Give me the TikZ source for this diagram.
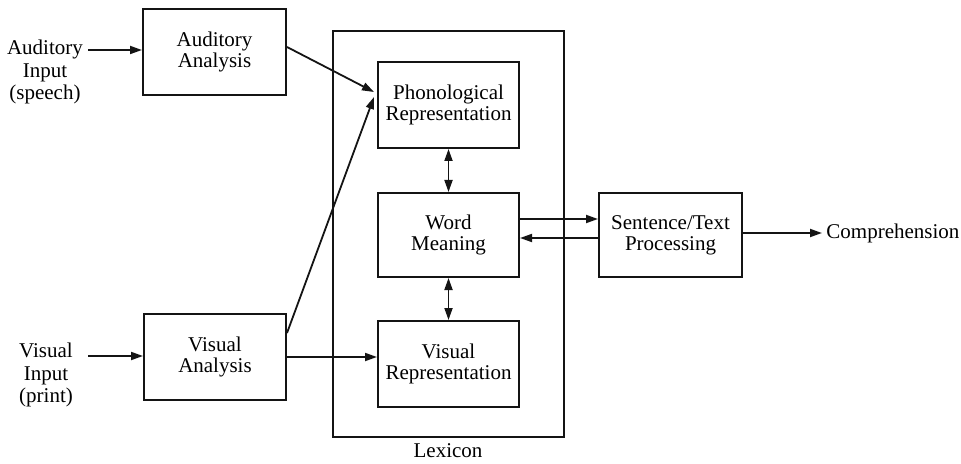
\documentclass[tikz,border=0pt]{standalone}
\usepackage{fontspec}
\setmainfont{Liberation Serif}
\usepackage{tikz}
\usetikzlibrary{arrows.meta,positioning,calc}
\definecolor{ink}{RGB}{20,20,20}
\tikzset{
  box/.style={rectangle,draw=ink,line width=1pt,align=center,
              minimum width=#1,minimum height=43pt,inner sep=2pt,
              font=\fontsize{10.5}{10.5}\selectfont},
  box/.default=71pt,
  label text/.style={align=center,inner sep=2pt,
                     font=\fontsize{10.5}{11.2}\selectfont},
  arrow/.style={-{Triangle[length=6pt,width=4pt]},line width=0.9pt,ink},
  dbarrow/.style={{Triangle[length=6pt,width=4pt]}-{Triangle[length=6pt,width=4pt]},
                  line width=0.9pt,ink},
}
\begin{document}
\begin{tikzpicture}[x=0.5pt,y=0.5pt]
  \useasboundingbox (0,0) rectangle (961,-464);
  % lexicon frame
  \node[draw=ink,line width=0.6pt,minimum width=115.5pt,minimum height=203pt,inner sep=0pt]
    (lexicon) at (448.5,-234) {};
  \node[label text] (lexlabel) at (448,-451) {Lexicon};

  \node[box=71.5pt] (audan) at (214.5,-52) {Auditory\\Analysis};
  \node[box] (visan) at (215,-357) {Visual\\Analysis};
  \node[box=70.5pt] (phon) at (448.5,-105) {Phonological\\Representation};
  \node[box=70.5pt,minimum height=42pt] (word) at (448.5,-235) {Word\\Meaning};
  \node[box=70.5pt] (visrep) at (448.5,-364) {Visual\\Representation};
  \node[box=71.5pt,minimum height=42pt] (sent) at (670.5,-235) {Sentence/Text\\Processing};

  \node[label text] (audin) at (45,-72) {Auditory\\Input\\(speech)};
  \node[label text] (visin) at (46,-375) {Visual\\Input\\(print)};
  \node[label text,anchor=west] (compr) at (822,-233) {Comprehension};

  \coordinate (audsrc) at (88,-50);
  \coordinate (vissrc) at (88,-356);

  \draw[arrow] (audsrc) -- (audan.west |- audsrc);
  \draw[arrow] (vissrc) -- (visan.west |- vissrc);
  \draw[arrow] ($(audan.east)+(0,5)$) -- ($(phon.west)+(-3,13)$);
  \draw[arrow] ($(visan.east)+(0,24)$) -- ($(phon.west)+(-3,8)$);
  \draw[arrow] (visan.east) -- (visrep.west |- visan.east);
  \draw[dbarrow] (phon.south) -- (word.north);
  \draw[dbarrow] (word.south) -- (visrep.north);
  \draw[arrow] ([yshift=8pt]word.east) -- ([yshift=8pt]sent.west);
  \draw[arrow] ([yshift=-1.5pt]sent.west) -- ([yshift=-1.5pt]word.east);
  \draw[arrow] (sent.east |- compr.west) -- (compr.west);
\end{tikzpicture}
\end{document}
